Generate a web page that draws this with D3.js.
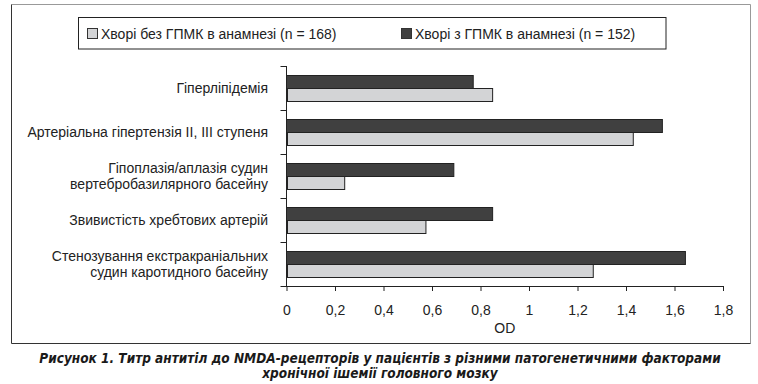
<!DOCTYPE html>
<html>
<head>
<meta charset="utf-8">
<script src="https://cdn.jsdelivr.net/npm/d3@7"></script>
<style>
  body { margin: 0; background: #fff; }
  svg { display: block; }
  text { font-family: "Liberation Sans", Arial, sans-serif; fill: #222; }
</style>
</head>
<body>
<div id="chart"></div>
<script>
// categories, top to bottom; each label split into lines
let categories = [
    ["Гіперліпідемія"],
    ["Артеріальна гіпертензія II, III ступеня"],
    ["Гіпоплазія/аплазія судин", "вертебробазилярного басейну"],
    ["Звивистість хребтових артерій"],
    ["Стенозування екстракраніальних", "судин каротидного басейну"]
];
let seriesNames = ["Хворі без ГПМК в анамнезі (n = 168)", "Хворі з ГПМК в анамнезі (n = 152)"];
let withoutGPMK = [0.85, 1.43, 0.24, 0.575, 1.265];
let withGPMK = [0.77, 1.55, 0.69, 0.85, 1.645];
let xTicks = [0, 0.2, 0.4, 0.6, 0.8, 1, 1.2, 1.4, 1.6, 1.8];
let xTitle = "OD";
let caption = [
    "Рисунок 1. Титр антитіл до NMDA-рецепторів у пацієнтів з різними патогенетичними факторами",
    "хронічної ішемії головного мозку"
];

let fills = ["#d3d4d6", "#404040"];

let width = 758, height = 384;
let svg = d3.select("#chart").append("svg")
    .attr("width", width)
    .attr("height", height);

svg.append("rect").attr("width", width).attr("height", height).style("fill", "#fff");

// frame
svg.append("path").attr("d", "M11.5,4.5 H750.5 V343.5").style("fill", "none").style("stroke", "#999");
svg.append("path").attr("d", "M11.5,4.5 V343.5 H750.5").style("fill", "none").style("stroke", "#333");

let x = d3.scaleLinear().domain([0, 1.8]).range([286.5, 723]);
let y = d3.scaleBand().domain(d3.range(categories.length)).range([66, 286]);
// dark (with) on top, light (without) below
let inner = d3.scaleBand().domain([1, 0]).range([9, 35]);

let series = [withoutGPMK, withGPMK];

let g = svg.append("g");
for (let s = 0; s < series.length; s++) {
    g.selectAll()
        .data(series[s])
        .enter()
        .append("rect")
        .attr("x", x(0) + (s == 0 ? 1 : 0))
        .attr("y", function (d, i) { return y(i) + inner(s) + 0.5; })
        .attr("width", function (d) { return x(d) - x(0) - (s == 0 ? 1 : 0); })
        .attr("height", inner.bandwidth())
        .style("fill", fills[s])
        .style("stroke", "#222")
        .style("stroke-width", 1);
}

// x axis
let xAxis = d3.axisBottom(x)
    .tickValues(xTicks)
    .tickSize(5)
    .tickSizeOuter(0)
    .tickPadding(14)
    .tickFormat(function (d) { return String(d).replace(".", ","); });
let ax = svg.append("g").attr("transform", "translate(0,286)").call(xAxis);
ax.select(".domain").attr("d", "M" + (x(0) - 6) + ",0.5H" + x(1.8)).style("stroke", "#222");
ax.selectAll(".tick line").style("stroke", "#222");
ax.selectAll(".tick text").style("font-size", "14px").style("font-family", "Liberation Sans, Arial, sans-serif").style("fill", "#222");

// y axis with ticks at band boundaries
let yg = svg.append("g");
yg.append("line")
    .attr("x1", x(0)).attr("x2", x(0))
    .attr("y1", y.range()[0]).attr("y2", y.range()[1])
    .style("stroke", "#222");
let bounds = d3.range(categories.length).map(function (i) { return y(i); });
yg.selectAll()
    .data(bounds)
    .enter()
    .append("line")
    .attr("x1", x(0) - 6).attr("x2", x(0))
    .attr("y1", function (d) { return Math.round(d) + 0.5; })
    .attr("y2", function (d) { return Math.round(d) + 0.5; })
    .style("stroke", "#222");

// category labels
let labels = svg.append("g");
categories.forEach(function (lines, i) {
    let cy = y(i) + y.bandwidth() / 2;
    let t = labels.append("text")
        .attr("x", 268)
        .attr("text-anchor", "end")
        .style("font-size", "14px");
    lines.forEach(function (line, k) {
        t.append("tspan")
            .attr("x", 268)
            .attr("y", cy + 5 + (k - (lines.length - 1) / 2) * 16)
            .text(line);
    });
});

svg.append("text")
    .attr("x", (x(0) + x(1.8)) / 2)
    .attr("y", 333)
    .attr("text-anchor", "middle")
    .style("font-size", "14px")
    .text(xTitle);

// legend
svg.append("rect")
    .attr("x", 78.5).attr("y", 17.5)
    .attr("width", 587.5).attr("height", 31.5)
    .style("fill", "#fff").style("stroke", "#222");
let legendX = [87, 401];
seriesNames.forEach(function (name, s) {
    svg.append("rect")
        .attr("x", legendX[s] + 0.5).attr("y", 28.5)
        .attr("width", 10).attr("height", 10)
        .style("fill", fills[s]).style("stroke", "#333");
    svg.append("text")
        .attr("x", legendX[s] + 14)
        .attr("y", 38.5)
        .style("font-size", "14px")
        .text(name);
});

// caption
caption.forEach(function (line, k) {
    svg.append("text")
        .attr("x", 380)
        .attr("y", 363 + k * 15)
        .attr("text-anchor", "middle")
        .style("font-family", "'Liberation Sans Narrow', 'DejaVu Sans Condensed', sans-serif")
        .style("font-weight", "bold")
        .style("font-style", "italic")
        .style("font-size", "13.5px")
        .style("fill", "#1a1a1a")
        .text(line);
});
</script>
</body>
</html>
